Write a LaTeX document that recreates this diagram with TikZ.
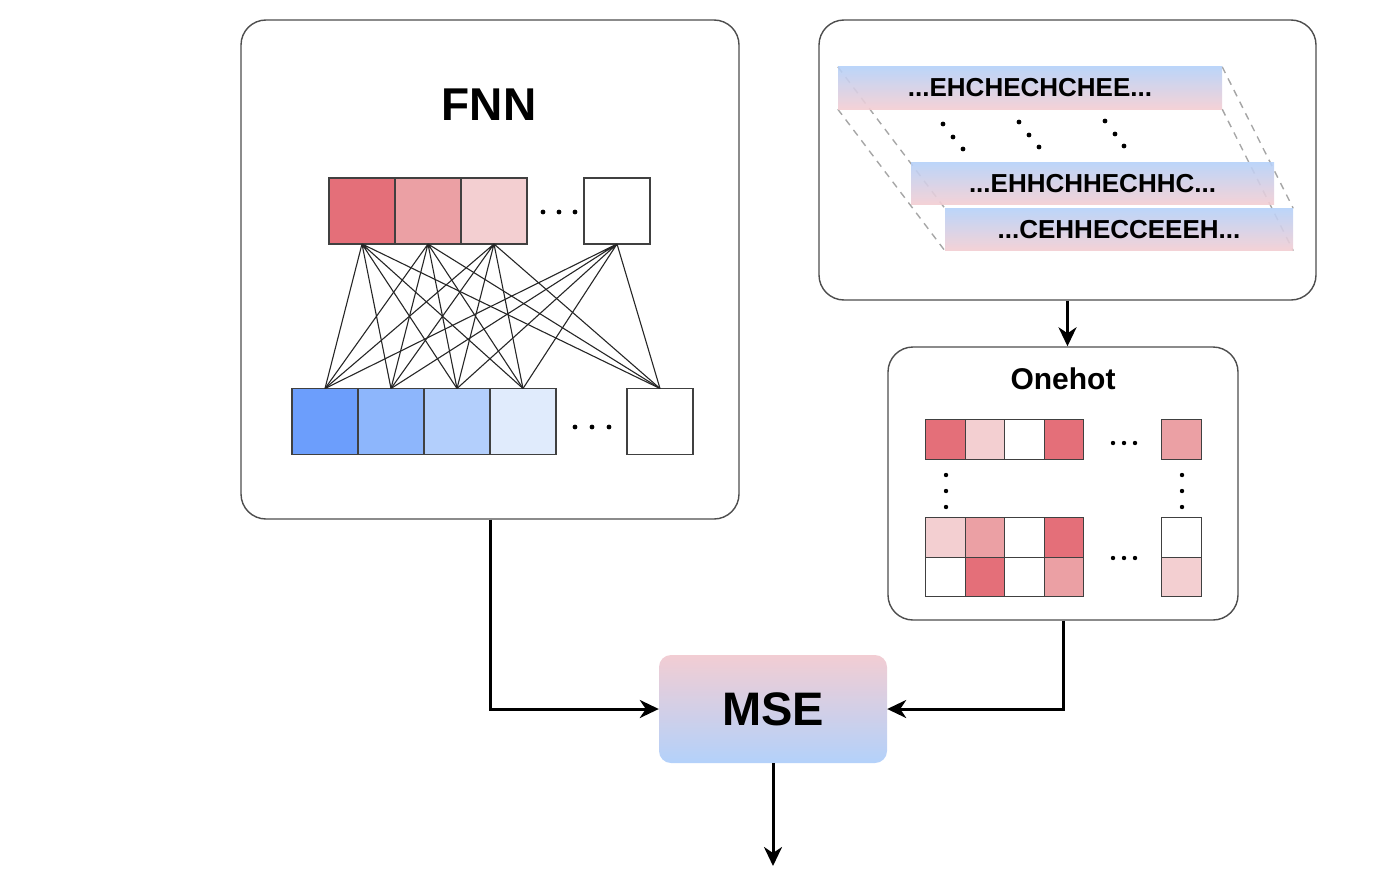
\documentclass[tikz,border=0pt]{standalone}
\usepackage{fontspec}
\setmainfont{Liberation Sans}
\usetikzlibrary{positioning,arrows.meta}
\pgfdeclarelayer{background}
\pgfsetlayers{background,main}
\definecolor{red1}{HTML}{E46F79}
\definecolor{red2}{HTML}{EBA0A4}
\definecolor{red3}{HTML}{F3CFD1}
\definecolor{blue1}{HTML}{6C9EFC}
\definecolor{blue2}{HTML}{8DB6FC}
\definecolor{blue3}{HTML}{B3CFFC}
\definecolor{blue4}{HTML}{E0EBFC}
\definecolor{barblue}{HTML}{B5D0F8}
\definecolor{barpink}{HTML}{F3CDD2}
\definecolor{msepink}{HTML}{F2CDD3}
\definecolor{mseblue}{HTML}{B3D1FA}
\definecolor{frame}{HTML}{4D4D4D}
\tikzset{
  panel/.style={draw=frame, line width=1.4pt, rounded corners=25pt},
  cell/.style={draw=black!75, line width=1.4pt, minimum size=66pt, inner sep=0pt, outer sep=0pt},
  hot/.style={cell, minimum size=39.5pt},
  seqbar/.style={top color=barblue, bottom color=barpink, fill opacity=0.9, text opacity=1,
    minimum height=42pt, inner sep=0pt, font=\bfseries\fontsize{26}{30}\selectfont},
  guide/.style={gray!70, line width=1.4pt, dash pattern=on 7pt off 6pt},
  link/.style={black!85, line width=1.1pt},
  arrow/.style={line width=3pt, -{Stealth[length=19pt,width=18pt,inset=6pt]}}
}
\begin{document}
\begin{tikzpicture}[x=1pt,y=-1pt]
\useasboundingbox (0,0) rectangle (1397,883);

\node[panel, minimum width=498pt, minimum height=499pt] (fnnbox) at (490,269.5) {};
\node[font=\bfseries\fontsize{46}{50}\selectfont] (fnn) at (489,105) {FNN};

\node[cell, fill=red1] (t1) at (362,211) {};
\node[cell, fill=red2, right=0pt of t1] (t2) {};
\node[cell, fill=red3, right=0pt of t2] (t3) {};
\node[cell, fill=white] (t4) at (617,211) {};
\fill (543,212) circle (2.4pt) (559,212) circle (2.4pt) (575,212) circle (2.4pt);

\node[cell, fill=blue1] (b1) at (325,421.5) {};
\node[cell, fill=blue2, right=0pt of b1] (b2) {};
\node[cell, fill=blue3, right=0pt of b2] (b3) {};
\node[cell, fill=blue4, right=0pt of b3] (b4) {};
\node[cell, fill=white] (b5) at (660,421.5) {};
\fill (575,427) circle (2.4pt) (592,427) circle (2.4pt) (609,427) circle (2.4pt);

\draw[link] (t1.south) -- (b1.north) (t1.south) -- (b2.north) (t1.south) -- (b3.north) (t1.south) -- (b4.north) (t1.south) -- (b5.north);
\draw[link] (t2.south) -- (b1.north) (t2.south) -- (b2.north) (t2.south) -- (b3.north) (t2.south) -- (b4.north) (t2.south) -- (b5.north);
\draw[link] (t3.south) -- (b1.north) (t3.south) -- (b2.north) (t3.south) -- (b3.north) (t3.south) -- (b4.north) (t3.south) -- (b5.north);
\draw[link] (t4.south) -- (b1.north) (t4.south) -- (b2.north) (t4.south) -- (b3.north) (t4.south) -- (b4.north) (t4.south) -- (b5.north);

\node[panel, minimum width=497pt, minimum height=280pt] (seqbox) at (1067.5,160) {};
\node[seqbar, minimum width=384pt] (bar1) at (1030,88) {...EHCHECHCHEE...};
\node[seqbar, minimum width=363pt] (bar2) at (1092.5,183.5) {...EHHCHHECHHC...};
\node[seqbar, minimum width=348pt] (bar3) at (1119,229.5) {...CEHHECCEEEH...};
\begin{pgfonlayer}{background}
\draw[guide] (bar1.north west) -- (bar3.north west);
\draw[guide] (bar1.south west) -- (bar3.south west);
\draw[guide] (bar1.north east) -- (bar3.north east);
\draw[guide] (bar1.south east) -- (bar3.south east);
\end{pgfonlayer}
\fill (943,124) circle (2.4pt) (953,137) circle (2.4pt) (963,149) circle (2.4pt);
\fill (1019,122) circle (2.4pt) (1029,135) circle (2.4pt) (1039,147) circle (2.4pt);
\fill (1105,121) circle (2.4pt) (1115,134) circle (2.4pt) (1124,146) circle (2.4pt);

\node[panel, minimum width=350pt, minimum height=273pt] (onehotbox) at (1063,483.5) {};
\node[font=\bfseries\fontsize{30}{34}\selectfont] (onehot) at (1063,379) {Onehot};

\node[hot, fill=red1] (o1) at (945.5,439.5) {};
\node[hot, fill=red3, right=0pt of o1] (o2) {};
\node[hot, fill=white, right=0pt of o2] (o3) {};
\node[hot, fill=red1, right=0pt of o3] (o4) {};
\node[hot, fill=red2] (o5) at (1181.5,439.5) {};
\fill (1113,443) circle (2.2pt) (1124,443) circle (2.2pt) (1135,443) circle (2.2pt);
\fill (946,475) circle (2.2pt) (946,491) circle (2.2pt) (946,507) circle (2.2pt);
\fill (1182,475) circle (2.2pt) (1182,491) circle (2.2pt) (1182,507) circle (2.2pt);

\node[hot, fill=red3] (p1) at (945.5,537.5) {};
\node[hot, fill=red2, right=0pt of p1] (p2) {};
\node[hot, fill=white, right=0pt of p2] (p3) {};
\node[hot, fill=red1, right=0pt of p3] (p4) {};
\node[hot, fill=white] (p5) at (1181.5,537.5) {};
\node[hot, fill=white, below=0pt of p1] (q1) {};
\node[hot, fill=red1, right=0pt of q1] (q2) {};
\node[hot, fill=white, right=0pt of q2] (q3) {};
\node[hot, fill=red2, right=0pt of q3] (q4) {};
\node[hot, fill=red3, below=0pt of p5] (q5) {};
\fill (1113,558) circle (2.2pt) (1124,558) circle (2.2pt) (1135,558) circle (2.2pt);

\node[top color=msepink, bottom color=mseblue, rounded corners=12pt, minimum width=228pt, minimum height=108pt,
  font=\bfseries\fontsize{47}{52}\selectfont] (mse) at (773,709) {MSE};
\coordinate (out) at (773,866);

\draw[arrow] (fnnbox.south) |- (mse.west);
\draw[arrow] (onehotbox.south) |- (mse.east);
\draw[arrow] (seqbox.south) -- (seqbox.south |- onehotbox.north);
\draw[arrow] (mse.south) -- (out);
\end{tikzpicture}
\end{document}
